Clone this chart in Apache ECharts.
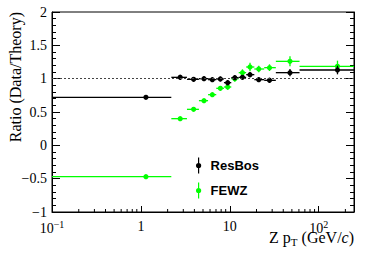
<!DOCTYPE html>
<html>
<head>
<meta charset="utf-8">
<script src="https://cdn.jsdelivr.net/npm/echarts@6/dist/echarts.min.js"></script>
<style>
html,body{margin:0;padding:0;background:#fff;}
#c{width:374px;height:253px;}
</style>
</head>
<body>
<div id="c"></div>
<script>
// ---- data ----
const binCenter = [1.14, 2.77, 3.92, 5.13, 6.37, 7.84, 9.48, 11.4, 13.9, 16.9, 21.2, 28, 47.6, 163];
const binLow    = [0.1, 2.2, 3.3, 4.5, 5.7, 7.05, 8.6, 10.4, 12.6, 15.3, 18.9, 24.4, 33, 61];
const binHigh   = [2.2, 3.3, 4.5, 5.7, 7.05, 8.6, 10.4, 12.6, 15.3, 18.9, 24.4, 33, 61, 250];
const resbos    = [0.72, 1.02, 0.99, 1.00, 0.985, 0.995, 0.94, 1.015, 1.02, 1.06, 0.985, 0.975, 1.09, 1.13];
const resbosErr = [0.01, 0.04, 0.035, 0.035, 0.035, 0.035, 0.04, 0.035, 0.035, 0.04, 0.035, 0.04, 0.055, 0.065];
const fewz      = [-0.47, 0.40, 0.54, 0.67, 0.76, 0.855, 0.875, 1.00, 1.09, 1.175, 1.145, 1.165, 1.26, 1.185];
const fewzErr   = [0.01, 0.015, 0.02, 0.025, 0.03, 0.035, 0.04, 0.045, 0.05, 0.065, 0.05, 0.05, 0.075, 0.085];
const seriesNames = ['ResBos', 'FEWZ'];
const xMinorTicks = [0.2,0.3,0.4,0.5,0.6,0.7,0.8,0.9,2,3,4,5,6,7,8,9,20,30,40,50,60,70,80,90,200];
const yTickLabelsMin = -1, yTickLabelsMax = 2, yTickStep = 0.5;
const xTitle = '{a|Z p}{s|T}{a| (GeV/}{i|c}{a|)}';
const yTitle = 'Ratio (Data/Theory)';

const SERIF = 'Liberation Serif';
const SANS = 'Liberation Sans';
const BLACK = '#000000';
const GREEN = '#00ff00';

function build(vals, errs) {
  return binCenter.map((x, i) => [x, vals[i], binLow[i], binHigh[i], errs[i]]);
}

function errRender(color) {
  return function (params, api) {
    const x = api.value(0), y = api.value(1), lo = api.value(2), hi = api.value(3), e = api.value(4);
    const c = api.coord([x, y]);
    const pl = api.coord([lo, y]);
    const ph = api.coord([hi, y]);
    const pt = api.coord([x, y + e]);
    const pb = api.coord([x, y - e]);
    return {
      type: 'group',
      children: [
        { type: 'line', shape: { x1: pl[0], y1: c[1], x2: ph[0], y2: c[1] }, style: { stroke: color, lineWidth: 1.3 } },
        { type: 'line', shape: { x1: c[0], y1: pt[1], x2: c[0], y2: pb[1] }, style: { stroke: color, lineWidth: 1.3 } },
        { type: 'circle', shape: { cx: c[0], cy: c[1], r: 2.6 }, style: { fill: color } }
      ]
    };
  };
}

const legendIcon = 'path://M2.4,0 H3.6 V16 H2.4 Z M3,5.4 A2.6,2.6 0 1,1 3,10.6 A2.6,2.6 0 1,1 3,5.4 Z';

const chart = echarts.init(document.getElementById('c'), null, { renderer: 'svg', width: 374, height: 253 });

const yAxisCommon = {
  type: 'value',
  min: yTickLabelsMin,
  max: yTickLabelsMax,
  interval: yTickStep,
  axisLine: { show: true, lineStyle: { color: BLACK, width: 1 } },
  axisTick: { show: true, inside: true, length: 8, lineStyle: { color: BLACK, width: 1 } },
  minorTick: { show: true, splitNumber: 5, length: 4, lineStyle: { color: BLACK, width: 1 } },
  splitLine: { show: false },
  minorSplitLine: { show: false }
};

chart.setOption({
  animation: false,
  backgroundColor: '#fff',
  grid: { left: 52, right: 20, top: 12, bottom: 41, show: true, borderColor: BLACK, borderWidth: 1, containLabel: false, outerBoundsMode: 'none' },
  legend: {
    data: seriesNames,
    orient: 'vertical',
    left: 196,
    top: 157.5,
    padding: 0,
    itemWidth: 6,
    itemHeight: 16,
    itemGap: 9,
    icon: legendIcon,
    textStyle: { fontFamily: SANS, fontWeight: 'bold', fontSize: 13, color: BLACK, padding: [0, 0, 0, 4] },
    selectedMode: false
  },
  xAxis: {
    type: 'log',
    logBase: 10,
    min: 0.1,
    max: 250,
    axisLine: { show: true, onZero: false, lineStyle: { color: BLACK, width: 1 } },
    axisTick: { show: true, inside: true, length: 6, lineStyle: { color: BLACK, width: 1 } },
    splitLine: { show: false },
    axisLabel: {
      margin: 7,
      fontFamily: SERIF,
      fontSize: 14,
      color: BLACK,
      showMinLabel: true,
      showMaxLabel: false,
      formatter: function (v) {
        const l = Math.log10(v);
        const e = Math.round(l);
        if (Math.abs(l - e) > 1e-6) return '';
        if (e === 0) return '1';
        if (e === 1) return '10';
        return '10{sup|' + (e < 0 ? '\u2212' : '') + Math.abs(e) + '}';
      },
      rich: { sup: { fontFamily: SERIF, fontSize: 10, verticalAlign: 'top', padding: [0, 0, 8, 0] } }
    }
  },
  yAxis: [
    Object.assign({}, yAxisCommon, {
      position: 'left',
      axisLabel: {
        margin: 5,
        fontFamily: SERIF,
        fontSize: 14,
        color: BLACK,
        formatter: v => (v < 0 ? '\u2212' : '') + Math.abs(v)
      }
    }),
    Object.assign({}, yAxisCommon, { position: 'right', axisLabel: { show: false } })
  ],
  graphic: [
    {
      type: 'text',
      x: 15,
      y: 12,
      rotation: Math.PI / 2,
      style: { text: yTitle, fontFamily: SERIF, fontSize: 16, fill: BLACK, align: 'right', verticalAlign: 'middle' }
    },
    {
      type: 'text',
      x: 354,
      y: 227,
      style: {
        text: xTitle,
        align: 'right',
        verticalAlign: 'top',
        fontFamily: SERIF,
        fontSize: 16,
        fill: BLACK,
        rich: {
          a: { fontFamily: SERIF, fontSize: 16, fill: BLACK },
          s: { fontFamily: SERIF, fontSize: 11, fill: BLACK, padding: [9, 0, 0, 0] },
          i: { fontFamily: SERIF, fontSize: 16, fontStyle: 'italic', fill: BLACK }
        }
      }
    }
  ],
  series: [
    {
      type: 'line',
      data: [],
      z: 1,
      silent: true,
      markLine: {
        silent: true,
        symbol: ['none', 'none'],
        label: { show: false },
        lineStyle: { type: [2, 2], color: '#444', width: 1.2 },
        data: [{ yAxis: 1 }]
      }
    },
    {
      type: 'custom',
      silent: true,
      z: 1,
      renderItem: function (params, api) {
        const p = api.coord([api.value(0), api.value(1)]);
        return { type: 'line', shape: { x1: p[0], y1: p[1], x2: p[0], y2: p[1] - 3 }, style: { stroke: BLACK, lineWidth: 1 } };
      },
      encode: { x: 0, y: 1 },
      data: xMinorTicks.map(v => [v, yTickLabelsMin])
    },
    {
      name: seriesNames[1],
      type: 'custom',
      z: 2,
      itemStyle: { color: GREEN },
      renderItem: errRender(GREEN),
      encode: { x: 0, y: 1 },
      data: build(fewz, fewzErr)
    },
    {
      name: seriesNames[0],
      type: 'custom',
      z: 3,
      itemStyle: { color: BLACK },
      renderItem: errRender(BLACK),
      encode: { x: 0, y: 1 },
      data: build(resbos, resbosErr)
    }
  ]
});
</script>
</body>
</html>
